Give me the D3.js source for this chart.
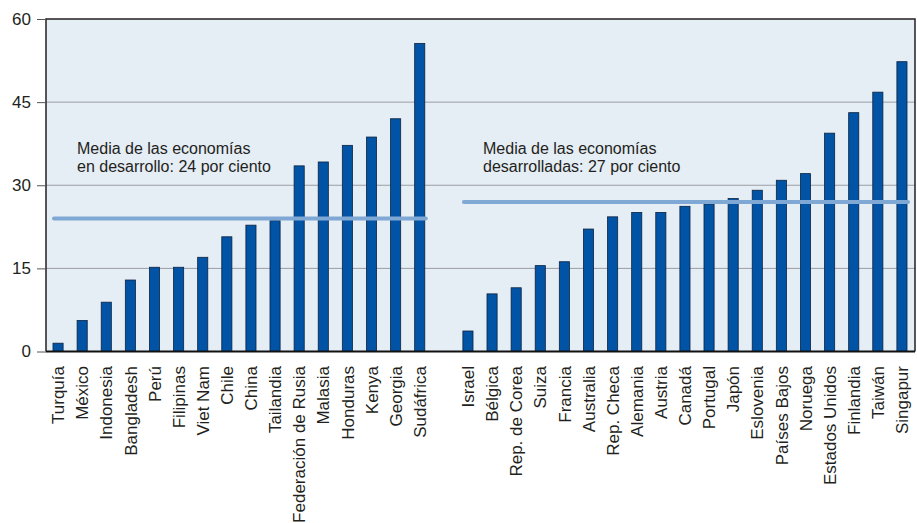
<!DOCTYPE html>
<html>
<head>
<meta charset="utf-8">
<script src="https://cdn.jsdelivr.net/npm/d3@7"></script>
<style>
  body { margin: 0; background: #fff; }
  svg { display: block; font-family: "Liberation Sans", Arial, sans-serif; }
</style>
</head>
<body>
<div id="chart"></div>
<script>
var devNames = ['Turquía', 'México', 'Indonesia', 'Bangladesh', 'Perú', 'Filipinas', 'Viet Nam', 'Chile',
  'China', 'Tailandia', 'Federación de Rusia', 'Malasia', 'Honduras', 'Kenya', 'Georgia', 'Sudáfrica'];
var devValues = [1.5, 5.6, 8.9, 12.9, 15.2, 15.2, 17.0, 20.7, 22.8, 23.6, 33.5, 34.2, 37.2, 38.7, 42.0, 55.6];

var advNames = ['Israel', 'Bélgica', 'Rep. de Corea', 'Suiza', 'Francia', 'Australia', 'Rep. Checa', 'Alemania',
  'Austria', 'Canadá', 'Portugal', 'Japón', 'Eslovenia', 'Países Bajos', 'Noruega', 'Estados Unidos',
  'Finlandia', 'Taiwán', 'Singapur'];
var advValues = [3.7, 10.4, 11.5, 15.5, 16.2, 22.1, 24.3, 25.1, 25.1, 26.2, 26.6, 27.6, 29.1, 30.9, 32.1, 39.4,
  43.1, 46.8, 52.3];

var yTicks = [0, 15, 30, 45, 60];
var devMean = 24;
var advMean = 27;
var devNote = ['Media de las economías', 'en desarrollo: 24 por ciento'];
var advNote = ['Media de las economías', 'desarrolladas: 27 por ciento'];

(function() {
  var width = 917, height = 523;
  var pl = 46, pr = 915, pt = 19, pb = 351.5;

  var rows = [];
  devNames.forEach(function(n, i) { rows.push({ name: n, value: devValues[i] }); });
  rows.push({ name: '__gap', value: null });
  advNames.forEach(function(n, i) { rows.push({ name: n, value: advValues[i] }); });

  var x = d3.scaleBand()
    .domain(rows.map(function(d) { return d.name; }))
    .range([pl, pr - 1])
    .paddingInner(0.58)
    .paddingOuter(0.29);

  var y = d3.scaleLinear().domain([0, 60]).range([pb, pt]);

  var svg = d3.select('#chart').append('svg')
    .attr('width', width)
    .attr('height', height);

  svg.append('rect')
    .attr('x', pl)
    .attr('y', pt)
    .attr('width', pr - pl)
    .attr('height', pb - pt)
    .attr('fill', '#e5edf5');

  // grid lines
  svg.selectAll('line.grid')
    .data(yTicks.filter(function(t) { return t > 0 && t < 60; }))
    .enter().append('line')
    .attr('class', 'grid')
    .attr('x1', pl)
    .attr('x2', pr)
    .attr('y1', function(d) { return y(d); })
    .attr('y2', function(d) { return y(d); })
    .attr('stroke', '#9a9ea3')
    .attr('stroke-width', 1);

  // bars
  svg.selectAll('rect.bar')
    .data(rows.filter(function(d) { return d.value !== null; }))
    .enter().append('rect')
    .attr('class', 'bar')
    .attr('x', function(d) { return x(d.name); })
    .attr('y', function(d) { return y(d.value); })
    .attr('width', x.bandwidth())
    .attr('height', function(d) { return y(0) - y(d.value); })
    .attr('fill', '#0053a5')
    .attr('stroke', '#0d2340')
    .attr('stroke-width', 0.8);

  // mean lines
  function meanLine(names, value) {
    var x1 = x(names[0]) + 0.1 * x.bandwidth();
    var x2 = x(names[names.length - 1]) + 1.1 * x.bandwidth();
    svg.append('line')
      .attr('x1', x1)
      .attr('x2', x2)
      .attr('y1', y(value))
      .attr('y2', y(value))
      .attr('stroke', '#80a8d4')
      .attr('stroke-width', 4)
      .attr('stroke-linecap', 'round');
  }
  meanLine(devNames, devMean);
  meanLine(advNames, advMean);

  // notes
  function note(lines, xPos) {
    var t = svg.append('text')
      .attr('x', xPos)
      .attr('y', 154)
      .attr('font-size', 16)
      .attr('fill', '#231f20');
    lines.forEach(function(l, i) {
      t.append('tspan').attr('x', xPos).attr('dy', i === 0 ? 0 : 18).text(l);
    });
  }
  note(devNote, 77);
  note(advNote, 483);

  // frame
  svg.append('path')
    .attr('d', 'M' + pl + ',' + pb + 'V' + pt + 'H' + pr + 'V' + pb)
    .attr('fill', 'none')
    .attr('stroke', '#231f20')
    .attr('stroke-width', 1.5);

  svg.append('line')
    .attr('x1', pl)
    .attr('x2', pr)
    .attr('y1', pb)
    .attr('y2', pb)
    .attr('stroke', '#111')
    .attr('stroke-width', 2.2);

  // y axis
  var yAxis = svg.append('g')
    .attr('transform', 'translate(' + pl + ',0)')
    .call(d3.axisLeft(y).tickValues(yTicks).tickSize(9).tickPadding(6));
  yAxis.select('.domain').remove();
  yAxis.selectAll('.tick line').attr('stroke', '#555');
  yAxis.selectAll('.tick text')
    .attr('font-size', 17)
    .attr('font-family', '"Liberation Sans", Arial, sans-serif')
    .attr('fill', '#231f20');

  // x labels
  var xAxis = svg.append('g')
    .attr('transform', 'translate(0,' + pb + ')')
    .call(d3.axisBottom(x).tickSize(0).tickPadding(0)
      .tickFormat(function(d) { return d === '__gap' ? '' : d; }));
  xAxis.select('.domain').remove();
  xAxis.selectAll('.tick text')
    .attr('font-size', 17)
    .attr('font-family', '"Liberation Sans", Arial, sans-serif')
    .attr('fill', '#231f20')
    .attr('text-anchor', 'end')
    .attr('transform', 'rotate(-90)')
    .attr('x', -14.5)
    .attr('y', 0)
    .attr('dy', '0.36em');
})();
</script>
</body>
</html>
